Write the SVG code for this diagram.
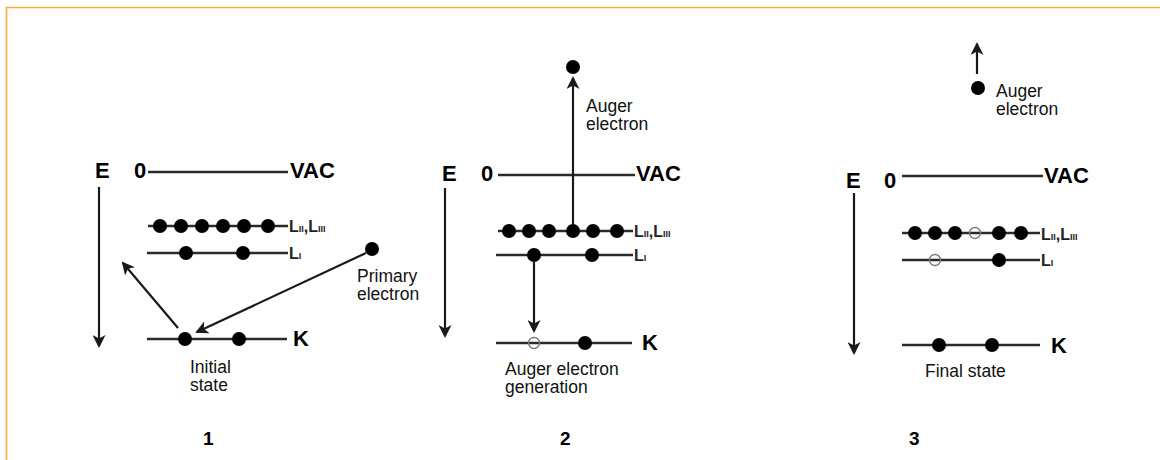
<svg xmlns="http://www.w3.org/2000/svg" width="1160" height="460" viewBox="0 0 1160 460">
<style>
.lvl{stroke:#2a2a2a;stroke-width:2.4;fill:none}
.e{fill:#000}
.h{fill:none;stroke:#7a7a7a;stroke-width:1.4}
.arr{stroke:#1a1a1a;stroke-width:2.2;fill:none;marker-end:url(#ah)}
.b{font-family:"Liberation Sans",Arial,sans-serif;font-weight:bold;font-size:22px;fill:#000}
.s{font-family:"Liberation Sans",Arial,sans-serif;font-weight:bold;font-size:16px;fill:#222}
.sub{font-size:9px}
.t{font-family:"Liberation Sans",Arial,sans-serif;font-size:17.5px;fill:#111}
.n{font-family:"Liberation Sans",Arial,sans-serif;font-weight:bold;font-size:19px;fill:#000}
</style>
<defs>
<marker id="ah" viewBox="0 0 13 13" refX="11" refY="6.5" markerWidth="13" markerHeight="13" orient="auto" markerUnits="userSpaceOnUse">
<path d="M0,0 L13,6.5 L0,13 L3.5,6.5 z" fill="#1a1a1a"/>
</marker>
</defs>
<rect width="1160" height="460" fill="#fff"/>
<path d="M6.5,460 V7.5 H1160" fill="none" stroke="#f5a937" stroke-width="1.6"/>

<!-- Panel 1 -->
<g id="panel1">
<g id="p1-axis"><text class="b" x="95" y="178">E</text></g>
<g id="p1-vac"><text class="b" x="134" y="178">0</text><line class="lvl" x1="148" y1="172" x2="288" y2="172"/><text class="b" x="290" y="178">VAC</text></g>
<g id="p1-l23"><line class="lvl" x1="148" y1="226" x2="288" y2="226"/>
<circle class="e" cx="160" cy="226" r="7"/><circle class="e" cx="181" cy="226" r="7"/><circle class="e" cx="202" cy="226" r="7"/><circle class="e" cx="223" cy="226" r="7"/><circle class="e" cx="244" cy="226" r="7"/><circle class="e" cx="268" cy="226" r="7"/>
<text class="s" x="289" y="232">L<tspan class="sub">II</tspan>,L<tspan class="sub">III</tspan></text></g>
<g id="p1-l1"><line class="lvl" x1="147" y1="253" x2="288" y2="253"/>
<circle class="e" cx="186" cy="253" r="7"/><circle class="e" cx="243" cy="253" r="7"/>
<text class="s" x="289" y="259">L<tspan class="sub">I</tspan></text></g>
<g id="p1-k"><line class="lvl" x1="147" y1="339" x2="287" y2="339"/>
<circle class="e" cx="185" cy="339" r="7"/><circle class="e" cx="239" cy="339" r="7"/>
<text class="b" x="293" y="346">K</text></g>
<g id="p1-primary"><circle class="e" cx="372" cy="249" r="7"/>
<text class="t" x="357" y="282">Primary</text><text class="t" x="357" y="300">electron</text></g>
<g id="p1-caption"><text class="t" x="190" y="373">Initial</text><text class="t" x="190" y="391">state</text></g>
<text class="n" x="203" y="445">1</text>
</g>

<!-- Panel 2 -->
<g id="panel2">
<g id="p2-axis"><text class="b" x="442" y="181">E</text></g>
<g id="p2-vac"><text class="b" x="481" y="181">0</text><line class="lvl" x1="498" y1="175" x2="635" y2="175"/><text class="b" x="636" y="181">VAC</text></g>
<g id="p2-l23"><line class="lvl" x1="498" y1="231" x2="633" y2="231"/>
<circle class="e" cx="509" cy="231" r="7"/><circle class="e" cx="529" cy="231" r="7"/><circle class="e" cx="549" cy="231" r="7"/><circle class="e" cx="573" cy="231" r="7"/><circle class="e" cx="593" cy="231" r="7"/><circle class="e" cx="617" cy="231" r="7"/>
<text class="s" x="634" y="237">L<tspan class="sub">II</tspan>,L<tspan class="sub">III</tspan></text></g>
<g id="p2-l1"><line class="lvl" x1="496" y1="255" x2="633" y2="255"/>
<circle class="e" cx="534" cy="255" r="7"/><circle class="e" cx="592" cy="255" r="7"/>
<text class="s" x="634" y="261">L<tspan class="sub">I</tspan></text></g>
<g id="p2-k"><line class="lvl" x1="496" y1="343" x2="632" y2="343"/>
<circle class="h" cx="534" cy="343" r="5.5"/><circle class="e" cx="585" cy="343" r="7"/>
<text class="b" x="642" y="350">K</text></g>
<g id="p2-auger"><circle class="e" cx="573" cy="67" r="7"/>
<text class="t" x="586" y="112">Auger</text><text class="t" x="586" y="130">electron</text></g>
<g id="p2-caption"><text class="t" x="505" y="375">Auger electron</text><text class="t" x="505" y="393">generation</text></g>
<text class="n" x="560" y="445">2</text>
</g>

<!-- Panel 3 -->
<g id="panel3">
<g id="p3-axis"><text class="b" x="846" y="188">E</text></g>
<g id="p3-vac"><text class="b" x="884" y="188">0</text><line class="lvl" x1="902" y1="176" x2="1043" y2="176"/><text class="b" x="1044" y="183">VAC</text></g>
<g id="p3-l23"><line class="lvl" x1="902" y1="233" x2="1040" y2="233"/>
<circle class="e" cx="915" cy="233" r="7"/><circle class="e" cx="935" cy="233" r="7"/><circle class="e" cx="955" cy="233" r="7"/><circle class="h" cx="975" cy="233" r="5.5"/><circle class="e" cx="999" cy="233" r="7"/><circle class="e" cx="1021" cy="233" r="7"/>
<text class="s" x="1041" y="240">L<tspan class="sub">II</tspan>,L<tspan class="sub">III</tspan></text></g>
<g id="p3-l1"><line class="lvl" x1="902" y1="260" x2="1040" y2="260"/>
<circle class="h" cx="935" cy="260" r="5.5"/><circle class="e" cx="999" cy="260" r="7"/>
<text class="s" x="1041" y="266">L<tspan class="sub">I</tspan></text></g>
<g id="p3-k"><line class="lvl" x1="902" y1="345" x2="1040" y2="345"/>
<circle class="e" cx="939" cy="345" r="7"/><circle class="e" cx="992" cy="345" r="7"/>
<text class="b" x="1051" y="353">K</text></g>
<g id="p3-auger"><circle class="e" cx="978" cy="88" r="7"/>
<text class="t" x="996" y="97">Auger</text><text class="t" x="996" y="115">electron</text></g>
<g id="p3-caption"><text class="t" x="925" y="377">Final state</text></g>
<text class="n" x="909" y="445">3</text>
</g>

<g id="connectors">
<line class="arr" x1="99" y1="187" x2="99" y2="346"/>
<line class="arr" x1="178" y1="328" x2="123" y2="263"/>
<line class="arr" x1="366" y1="253" x2="197" y2="332"/>
<line class="arr" x1="445" y1="188" x2="445" y2="336"/>
<line class="arr" x1="573" y1="225" x2="573" y2="78"/>
<line class="arr" x1="534" y1="262" x2="534" y2="331"/>
<line class="arr" x1="854" y1="193" x2="854" y2="353"/>
<line class="arr" x1="977" y1="74" x2="977" y2="44"/>
</g>
</svg>
